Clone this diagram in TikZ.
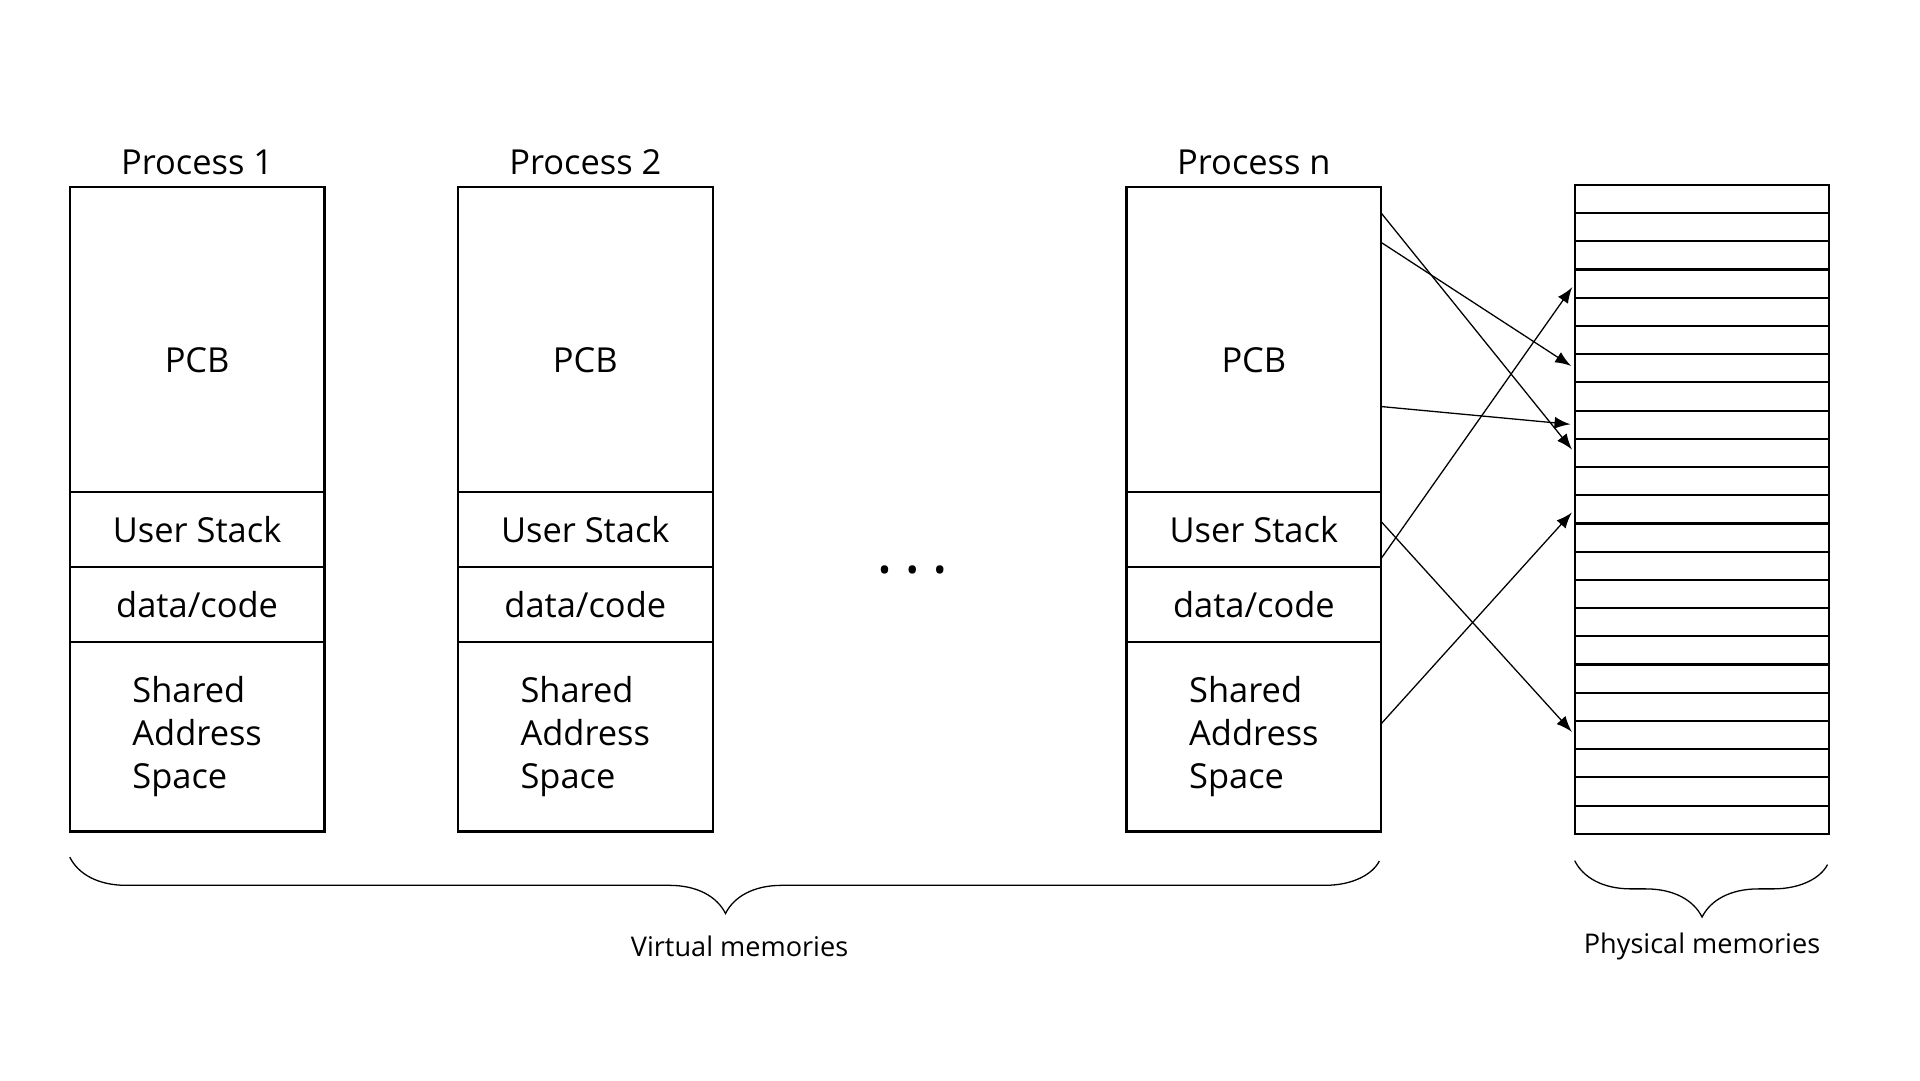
\documentclass[tikz,border=0pt]{standalone}
\usepackage{fontspec}
\setmainfont{Open Sans}
\usetikzlibrary{arrows,positioning,decorations.pathreplacing}

\begin{document}
\begin{tikzpicture}[>=latex,shorten >=1pt,
    seg/.style={draw,line width=0.5pt,minimum width=20.8mm,inner sep=0pt,outer sep=0pt,
                font=\fontsize{8}{10.1}\selectfont},
    pcb/.style={seg,minimum height=24.9mm,text height=5.3mm,text depth=0pt},
    cell/.style={draw,line width=0.5pt,minimum width=20.8mm,minimum height=2.304mm,inner sep=0pt,outer sep=0pt},
    title/.style={font=\fontsize{8}{10}\selectfont},
    lab/.style={font=\fontsize{6.3}{8}\selectfont},
    map/.style={->,line width=0.3pt},
    brace/.style={decorate,decoration={brace,mirror,amplitude=4.6mm},line width=0.3pt}]

    \useasboundingbox (0,0) rectangle (15.68,-8.82);

    % process 1
    \node[pcb] (pcb1) at (1.61,-2.775) {PCB};
    \node[seg,minimum height=6.1mm] (us1) [below=0mm of pcb1] {User Stack};
    \node[seg,minimum height=6.1mm] (dc1) [below=0mm of us1] {data/code};
    \node[seg,minimum height=15.5mm,align=left] (sas1) [below=0mm of dc1] {Shared\\Address\\Space};
    \node[title] (t1) [above=-0.2mm of pcb1] {Process 1};

    % process 2
    \node[pcb] (pcb2) [right=10.9mm of pcb1] {PCB};
    \node[seg,minimum height=6.1mm] (us2) [below=0mm of pcb2] {User Stack};
    \node[seg,minimum height=6.1mm] (dc2) [below=0mm of us2] {data/code};
    \node[seg,minimum height=15.5mm,align=left] (sas2) [below=0mm of dc2] {Shared\\Address\\Space};
    \node[title] (t2) [above=-0.2mm of pcb2] {Process 2};

    \node[font=\fontsize{8}{10}\selectfont] (dots) at (7.45,-4.69) {\textbullet\hspace{1.2mm}\textbullet\hspace{1.2mm}\textbullet};

    % process n
    \node[pcb] (pcbn) [right=33.8mm of pcb2] {PCB};
    \node[seg,minimum height=6.1mm] (usn) [below=0mm of pcbn] {User Stack};
    \node[seg,minimum height=6.1mm] (dcn) [below=0mm of usn] {data/code};
    \node[seg,minimum height=15.5mm,align=left] (sasn) [below=0mm of dcn] {Shared\\Address\\Space};
    \node[title] (tn) [above=-0.2mm of pcbn] {Process n};

    % physical memory
    \foreach \i in {1,...,23}
        \node[cell] (pm\i) at (13.9,{-1.51-(\i-0.5)*0.2304}) {};

    % mappings
    \draw[map] ([yshift=-2.1mm]pcbn.north east) -- (pm10.west);
    \draw[map] ([yshift=-4.5mm]pcbn.north east) -- (pm7.west);
    \draw[map] ([yshift=-17.9mm]pcbn.north east) -- (pm9.west);
    \draw[map] ([yshift=-2.4mm]usn.north east) -- (pm20.west);
    \draw[map] ([yshift=0.7mm]usn.south east) -- (pm4.west);
    \draw[map] ([yshift=-6.7mm]sasn.north east) -- (pm12.west);

    % braces
    \draw[brace] ([yshift=-2.1mm]sas1.south west) -- ([yshift=-2.1mm]sasn.south east);
    \draw[brace] ([yshift=-2.2mm]pm23.south west) -- ([yshift=-2.2mm]pm23.south east);
    \node[lab] (vm) at (6.04,-7.73) {Virtual memories};
    \node[lab] (phm) at (13.90,-7.73) {Physical memories};

\end{tikzpicture}
\end{document}
